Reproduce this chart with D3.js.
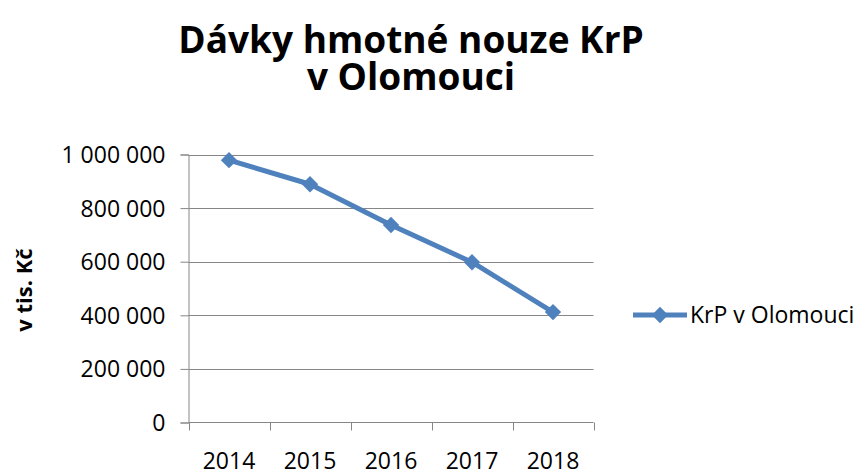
<!DOCTYPE html>
<html lang="cs">
<head>
    <meta charset="UTF-8">
    <title>Dávky hmotné nouze KrP v Olomouci</title>
    <script src="https://d3js.org/d3.v7.min.js"></script>
    <style>
        body { margin: 0; background: #fff; }
        svg { display: block; }
        text { font-family: "Open Sans", Arial, sans-serif; fill: #000; }
        .title { font-size: 37px; font-weight: bold; }
        .ytitle { font-size: 22px; font-weight: bold; }
        .tick-label { font-size: 23px; }
        .legend { font-size: 23px; }
    </style>
</head>
<body>
    <script>
        // data
        const years = ["2014", "2015", "2016", "2017", "2018"];
        const values = [979000, 889000, 737000, 598000, 412000];
        const yTicks = [0, 200000, 400000, 600000, 800000, 1000000];
        const seriesName = "KrP v Olomouci";
        const titleLines = ["Dávky hmotné nouze KrP", "v Olomouci"];
        const yTitle = "v tis. Kč";

        const width = 859, height = 475;
        const blue = "#4F81BD", grey = "#868686";

        const svg = d3.select("body").append("svg")
            .attr("width", width)
            .attr("height", height);

        const x = d3.scalePoint().domain(years).range([188.5, 593.5]).padding(0.5);
        const y = d3.scaleLinear().domain([0, 1000000]).range([422.5, 154.5]);

        const fmt = d3.formatLocale({ decimal: ",", thousands: " ", grouping: [3], currency: ["", ""] }).format(",");

        // title
        svg.append("text")
            .attr("class", "title")
            .attr("text-anchor", "middle")
            .selectAll("tspan")
            .data(titleLines)
            .enter().append("tspan")
            .attr("x", 411)
            .attr("y", (d, i) => 53 + i * 37)
            .text(d => d);

        // gridlines
        svg.append("g")
            .selectAll("line")
            .data(yTicks.filter(d => d > 0))
            .enter().append("line")
            .attr("x1", 188.5).attr("x2", 593.5)
            .attr("y1", d => Math.round(y(d)) + 0.5).attr("y2", d => Math.round(y(d)) + 0.5)
            .attr("stroke", grey).attr("stroke-width", 1);

        // y axis
        const yAxis = svg.append("g")
            .attr("transform", "translate(188.5,0)")
            .call(d3.axisLeft(y).tickValues(yTicks).tickSize(8).tickPadding(15).tickFormat(fmt));
        yAxis.attr("font-family", null).attr("font-size", null);
        yAxis.select(".domain").attr("stroke", grey);
        yAxis.selectAll(".tick line").attr("stroke", grey);
        yAxis.selectAll(".tick text").attr("class", "tick-label").attr("dy", "0.35em");

        // x axis (ticks between categories)
        const xb = d3.scaleLinear().domain([0, years.length]).range([188.5, 593.5]);
        const xAxis = svg.append("g").attr("transform", "translate(0,422.5)");
        xAxis.append("line").attr("x1", 188.5).attr("x2", 593.5).attr("stroke", grey);
        xAxis.selectAll(".xt")
            .data(d3.range(years.length + 1))
            .enter().append("line")
            .attr("x1", d => Math.round(xb(d)) + 0.5).attr("x2", d => Math.round(xb(d)) + 0.5)
            .attr("y1", 0).attr("y2", 8)
            .attr("stroke", grey);
        xAxis.selectAll("text")
            .data(years)
            .enter().append("text")
            .attr("class", "tick-label")
            .attr("x", d => x(d))
            .attr("y", 46)
            .attr("text-anchor", "middle")
            .text(d => d);

        // y title
        svg.append("text")
            .attr("class", "ytitle")
            .attr("text-anchor", "middle")
            .attr("transform", "translate(32,290) rotate(-90)")
            .text(yTitle);

        // line
        const pts = years.map((d, i) => [x(d), y(values[i])]);
        svg.append("path")
            .attr("d", d3.line()(pts))
            .attr("fill", "none")
            .attr("stroke", blue)
            .attr("stroke-width", 5)
            .attr("stroke-linejoin", "round");

        const diamond = d3.symbol().type(d3.symbolDiamond2).size(170);
        svg.append("g")
            .selectAll("path")
            .data(pts)
            .enter().append("path")
            .attr("d", diamond)
            .attr("transform", d => `translate(${d[0]},${d[1]})`)
            .attr("fill", blue);

        // legend
        const legend = svg.append("g").attr("transform", "translate(633,315)");
        legend.append("line").attr("x1", 0).attr("x2", 54)
            .attr("stroke", blue).attr("stroke-width", 5);
        legend.append("path").attr("d", diamond).attr("transform", "translate(27,0)").attr("fill", blue);
        legend.append("text").attr("class", "legend")
            .attr("x", 57).attr("y", 0).attr("dy", "0.35em")
            .text(seriesName);
    </script>
</body>
</html>
